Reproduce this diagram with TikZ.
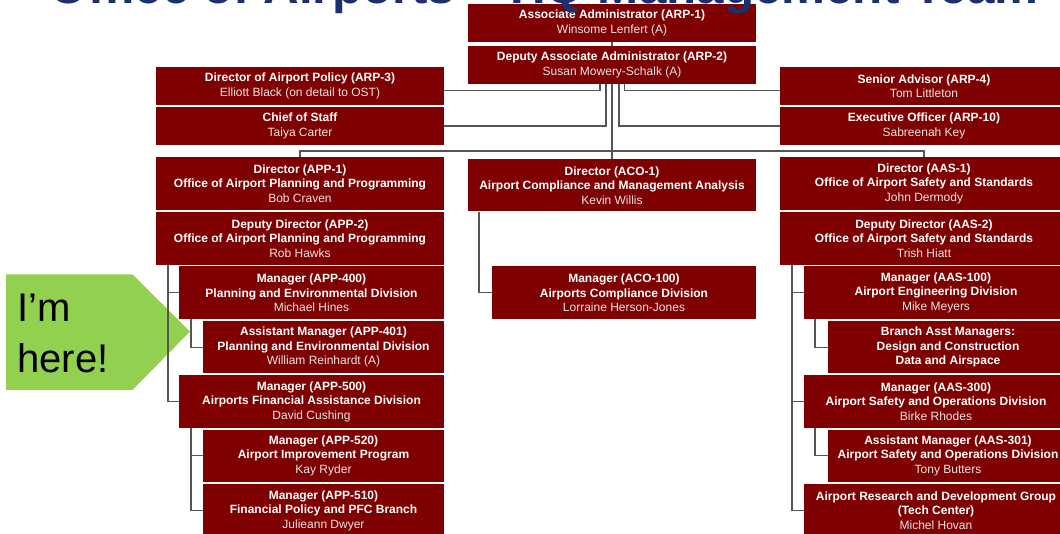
\documentclass[tikz,border=0pt]{standalone}
\usepackage{fontspec}
\setmainfont{Liberation Sans}
\usetikzlibrary{calc}
\definecolor{boxred}{RGB}{127,0,0}
\definecolor{namegray}{RGB}{236,228,228}
\definecolor{connc}{RGB}{85,85,85}
\definecolor{arrowgreen}{RGB}{146,208,80}
\definecolor{titleblue}{RGB}{28,48,110}
\tikzset{
  orgbox/.style={fill=boxred, text=white, inner sep=0pt, align=center,
    font=\fontsize{9}{10.9}\selectfont\bfseries},
  conn/.style={draw=connc, line width=0.8pt},
  bigtext/.style={font=\fontsize{30}{36}\selectfont, anchor=base west, inner sep=0pt, text=black},
}
\newcommand{\nm}[1]{{\mdseries\color{namegray}#1}}
\newcommand{\orgnode}[6]{%
  \pgfmathsetmacro{\obw}{(#4-#2)*0.75}%
  \pgfmathsetmacro{\obh}{(#5-#3)*0.75}%
  \node[orgbox, minimum width=\obw pt, minimum height=\obh pt] (#1) at ({(#2+#4)/2},{(#3+#5)/2}) {#6};%
}
\begin{document}
\begin{tikzpicture}[x=0.75pt,y=-0.75pt]
\useasboundingbox (0,0) rectangle (1060,534);
\clip (0,0) rectangle (1060,534);
\fill[white] (0,0) rectangle (1060,534);

% green marker
\fill[arrowgreen] (6,274.5) -- (132.5,274.5) -- (190,331.5) -- (132.5,390) -- (6,390) -- cycle;
\node[bigtext] (im) at (17,321.5) {I’m};
\node[bigtext] (here) at (17,373) {here!};

% boxes
\orgnode{arp1}{468}{4}{756}{42}{Associate Administrator (ARP-1)\\\nm{Winsome Lenfert (A)}}
\orgnode{arp2}{468}{46}{756}{84}{Deputy Associate Administrator (ARP-2)\\\nm{Susan Mowery-Schalk (A)}}
\orgnode{arp3}{156}{67}{444}{105}{Director of Airport Policy (ARP-3)\\\nm{Elliott Black (on detail to OST)}}
\orgnode{cos}{156}{107}{444}{145}{Chief of Staff\\\nm{Taiya Carter}}
\orgnode{arp4}{780}{67}{1068}{105}{Senior Advisor (ARP-4)\\\nm{Tom Littleton}}
\orgnode{arp10}{780}{107}{1068}{145}{Executive Officer (ARP-10)\\\nm{Sabreenah Key}}
\orgnode{app1}{156}{157}{444}{210}{Director (APP-1)\\Office of Airport Planning and Programming\\\nm{Bob Craven}}
\orgnode{aco1}{468}{159}{756}{211.5}{Director (ACO-1)\\Airport Compliance and Management Analysis\\\nm{Kevin Willis}}
\orgnode{aas1}{780}{157}{1068}{210}{Director (AAS-1)\\Office of Airport Safety and Standards\\\nm{John Dermody}}
\orgnode{app2}{156}{212}{444}{265}{Deputy Director (APP-2)\\Office of Airport Planning and Programming\\\nm{Rob Hawks}}
\orgnode{aas2}{780}{212}{1068}{265}{Deputy Director (AAS-2)\\Office of Airport Safety and Standards\\\nm{Trish Hiatt}}
\orgnode{app400}{179}{266.5}{444}{319}{Manager (APP-400)\\Planning and Environmental Division\\\nm{Michael Hines}}
\orgnode{aco100}{492}{266.5}{756}{319}{Manager (ACO-100)\\Airports Compliance Division\\\nm{Lorraine Herson-Jones}}
\orgnode{aas100}{804}{266.5}{1068}{319}{Manager (AAS-100)\\Airport Engineering Division\\\nm{Mike Meyers}}
\orgnode{app401}{203}{321}{444}{373.5}{Assistant Manager (APP-401)\\Planning and Environmental Division\\\nm{William Reinhardt (A)}}
\orgnode{brm}{828}{321}{1068}{373.5}{Branch Asst Managers:\\Design and Construction\\Data and Airspace}
\orgnode{app500}{179}{375.5}{444}{427.5}{Manager (APP-500)\\Airports Financial Assistance Division\\\nm{David Cushing}}
\orgnode{aas300}{804}{375.5}{1068}{427.5}{Manager (AAS-300)\\Airport Safety and Operations Division\\\nm{Birke Rhodes}}
\orgnode{app520}{203}{429.5}{444}{482}{Manager (APP-520)\\Airport Improvement Program\\\nm{Kay Ryder}}
\orgnode{aas301}{828}{429.5}{1068}{482}{Assistant Manager (AAS-301)\\Airport Safety and Operations Division\\\nm{Tony Butters}}
\orgnode{app510}{203}{484}{444}{537}{Manager (APP-510)\\Financial Policy and PFC Branch\\\nm{Julieann Dwyer}}
\orgnode{tech}{804}{484}{1068}{537}{Airport Research and Development Group\\(Tech Center)\\\nm{Michel Hovan}}

% connectors
\coordinate (hub) at (612,151);
\coordinate (lsp) at (168,0);
\coordinate (lsp2) at (191,0);
\coordinate (csp) at (479,0);
\coordinate (rsp) at (792,0);
\coordinate (rsp2) at (815,0);
\draw[conn] (arp1.south) -- (arp2.north);
\draw[conn] (arp2.south) -- (aco1.north);
\draw[conn] (app1.north) |- (hub) -| (aas1.north);
\draw[conn] ([xshift=-9pt]arp2.south) |- ([yshift=-3.4pt]arp3.east);
\draw[conn] ([xshift=-4.5pt]arp2.south) |- (cos.east);
\draw[conn] ([xshift=5.25pt]arp2.south) |- (arp10.west);
\draw[conn] ([xshift=9.4pt]arp2.south) |- ([yshift=-3.4pt]arp4.west);
% left tree
\draw[conn] (app2.south -| lsp) |- (app500.west);
\draw[conn] (app400.west -| lsp) -- (app400.west);
\draw[conn] (app400.south -| lsp2) |- (app401.west);
\draw[conn] (app500.south -| lsp2) |- (app510.west);
\draw[conn] (app520.west -| lsp2) -- (app520.west);
% middle
\draw[conn] (aco1.south -| csp) |- (aco100.west);
% right tree
\draw[conn] (aas2.south -| rsp) |- (tech.west);
\draw[conn] (aas100.west -| rsp) -- (aas100.west);
\draw[conn] (aas300.west -| rsp) -- (aas300.west);
\draw[conn] (aas100.south -| rsp2) |- (brm.west);
\draw[conn] (aas300.south -| rsp2) |- (aas301.west);

% title (cut off at the top)
\node[font=\fontsize{37}{40}\selectfont\bfseries, text=titleblue, anchor=base west, inner sep=0pt] (title) at (49.5,4) {Office of Airports – HQ Management Team};
\end{tikzpicture}
\end{document}
